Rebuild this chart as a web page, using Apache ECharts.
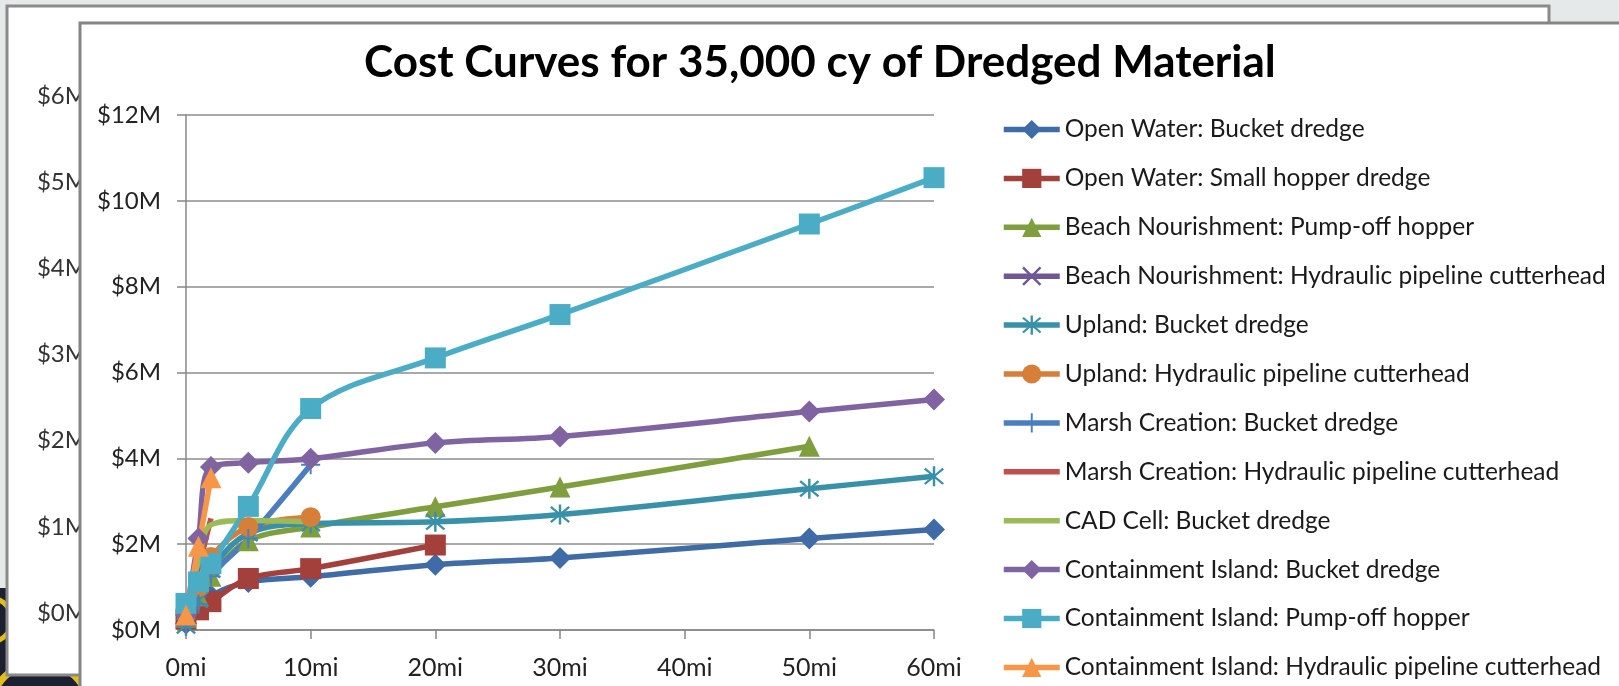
<!DOCTYPE html>
<html>
<head>
<meta charset="utf-8">
<script src="https://cdn.jsdelivr.net/npm/echarts@6/dist/echarts.min.js"></script>
<style>
  html, body { margin: 0; padding: 0; background: #e6e9e9; }
  #chart { width: 1619px; height: 686px; }
</style>
</head>
<body>
<div id="chart"></div>
<script>
// Haul distance (miles) shared by every cost curve
const distances = [0, 1, 2, 5, 10, 20, 30, 50, 60];

// Total cost in $ millions at each distance (null = not computed)
const openWaterBucket        = [0.15, 0.50, 0.80, 1.12, 1.24, 1.52, 1.68, 2.13, 2.34];
const openWaterHopper        = [0.25, 0.47, 0.66, 1.20, 1.43, 1.98, null, null, null];
const beachPumpOff           = [0.30, 0.80, 1.25, 2.08, 2.40, 2.87, 3.33, 4.28, null];
const beachHydraulic         = [0.30, 0.95, 1.50, null, null, null, null, null, null];
const uplandBucket           = [0.10, 0.70, 1.40, 2.25, 2.48, 2.52, 2.69, 3.29, 3.58];
const uplandHydraulic        = [0.40, 1.00, 1.70, 2.40, 2.63, null, null, null, null];
const marshBucket            = [0.10, 0.60, 1.25, 2.13, 3.85, null, null, null, null];
const marshHydraulic         = [0.35, 1.45, 2.60, null, null, null, null, null, null];
const cadCellBucket          = [0.45, 1.60, 2.45, 2.55, 2.52, null, null, null, null];
const containmentBucket      = [0.35, 2.13, 3.80, 3.90, 3.99, 4.36, 4.51, 5.09, 5.37];
const containmentPumpOff     = [0.62, 1.12, 1.55, 2.88, 5.16, 6.34, 7.35, 9.46, 10.54];
const containmentHydraulic   = [0.35, 1.95, 3.55, null, null, null, null, null, null];

const seriesNames = [
  'Open Water: Bucket dredge',
  'Open Water: Small hopper dredge',
  'Beach Nourishment: Pump-off hopper',
  'Beach Nourishment: Hydraulic pipeline cutterhead',
  'Upland: Bucket dredge',
  'Upland: Hydraulic pipeline cutterhead',
  'Marsh Creation: Bucket dredge',
  'Marsh Creation: Hydraulic pipeline cutterhead',
  'CAD Cell: Bucket dredge',
  'Containment Island: Bucket dredge',
  'Containment Island: Pump-off hopper',
  'Containment Island: Hydraulic pipeline cutterhead'
];
const seriesValues = [
  openWaterBucket, openWaterHopper, beachPumpOff, beachHydraulic,
  uplandBucket, uplandHydraulic, marshBucket, marshHydraulic,
  cadCellBucket, containmentBucket, containmentPumpOff, containmentHydraulic
];

// Axis ticks
const xTicks = [0, 10, 20, 30, 40, 50, 60];
const yTicks = [0, 2, 4, 6, 8, 10, 12];
const backYTicks = [0, 1, 2, 3, 4, 5, 6];

const chartTitle = 'Cost Curves for 35,000 cy of Dredged Material';

// Marker shapes
const X_MARK = 'path://M1.8,0L10,8.2L18.2,0L20,1.8L11.8,10L20,18.2L18.2,20L10,11.8L1.8,20L0,18.2L8.2,10L0,1.8Z';
const STAR_MARK = 'path://M8.8,0H11.2V20H8.8Z M1.8,1.5L10,8.7L18.2,1.5L19.8,3.2L11.6,10L19.8,16.8L18.2,18.5L10,11.3L1.8,18.5L0.2,16.8L8.4,10L0.2,3.2Z';
const PLUS_MARK = 'path://M9,0H11V20H9Z M0,9H20V11H0Z';

const styles = [
  { color: '#3f6ca6', symbol: 'diamond',  size: 22 },
  { color: '#a3403c', symbol: 'rect',     size: 21 },
  { color: '#7f9e3e', symbol: 'triangle', size: 21 },
  { color: '#705795', symbol: X_MARK,     size: 19 },
  { color: '#3891a8', symbol: STAR_MARK,  size: 20 },
  { color: '#d67f38', symbol: 'circle',   size: 20 },
  { color: '#4a7ebe', symbol: PLUS_MARK,  size: 19 },
  { color: '#c0504d', symbol: 'none',     size: 0 },
  { color: '#9bbb59', symbol: 'none',     size: 0 },
  { color: '#8064a2', symbol: 'diamond',  size: 22 },
  { color: '#4bacc6', symbol: 'rect',     size: 21 },
  { color: '#f79646', symbol: 'triangle', size: 21 }
];

const FONT = 'Lato, "Open Sans", sans-serif';
const AXIS_GRAY = '#878787';
const LINE_W = 5.5;

const series = seriesNames.map(function (name, i) {
  const st = styles[i];
  const data = distances
    .map(function (d, j) { return [d, seriesValues[i][j]]; })
    .filter(function (p) { return p[1] !== null; });
  return {
    name: name,
    type: 'line',
    xAxisIndex: 0,
    yAxisIndex: 0,
    data: data,
    smooth: 0.35,
    clip: false,
    z: 6,
    symbol: st.symbol,
    symbolSize: st.size,
    showAllSymbol: true,
    lineStyle: { color: st.color, width: LINE_W },
    itemStyle: { color: st.color, borderWidth: 0 },
    emphasis: { disabled: true }
  };
});

// legend entries: lines drawn without markers keep a bare line in the key
const legendData = seriesNames.map(function (name, i) {
  return styles[i].symbol === 'none'
    ? { name: name, itemStyle: { opacity: 0 } }
    : { name: name };
});

const chart = echarts.init(document.getElementById('chart'), null, { renderer: 'canvas' });

chart.setOption({
  animation: false,
  backgroundColor: '#e6e9e9',
  graphic: [
    // dark emblem in the lower-left corner of the slide
    { type: 'rect', z: 1, shape: { x: 0, y: 588, width: 95, height: 98 }, style: { fill: '#1d2030' } },
    { type: 'circle', z: 1, shape: { cx: 40, cy: 712, r: 50 }, style: { fill: 'none', stroke: '#e2bd1f', lineWidth: 7 } },
    { type: 'circle', z: 1, shape: { cx: -10, cy: 620, r: 22 }, style: { fill: 'none', stroke: '#e2bd1f', lineWidth: 5 } },
    // card behind
    { type: 'rect', z: 2, shape: { x: 7, y: 6, width: 1542, height: 669 },
      style: { fill: '#ffffff', stroke: '#8a8a8a', lineWidth: 3 } },
    // card in front
    { type: 'rect', z: 4, shape: { x: 80, y: 23, width: 1560, height: 700 },
      style: { fill: '#ffffff', stroke: '#858585', lineWidth: 3 } }
  ],
  title: {
    text: chartTitle,
    left: 364,
    top: 41,
    padding: 0,
    z: 7,
    textStyle: { fontFamily: FONT, fontWeight: 'bold', fontSize: 44, color: '#000000' }
  },
  legend: {
    data: legendData,
    orient: 'vertical',
    left: 1001,
    top: 117,
    height: 600,
    padding: 0,
    itemWidth: 56,
    itemHeight: 24,
    itemGap: 23.9,
    selectedMode: false,
    z: 7,
    lineStyle: { width: LINE_W },
    textStyle: { fontFamily: FONT, fontSize: 24.5, color: '#1a1a1a', lineHeight: 24 }
  },
  grid: [
    { left: 186, right: 685, top: 115, bottom: 56, containLabel: false },
    { left: 100, right: 700, top: 96, bottom: 73, containLabel: false }
  ],
  xAxis: [
    {
      type: 'value', gridIndex: 0, z: 5,
      min: xTicks[0], max: xTicks[xTicks.length - 1], interval: xTicks[1] - xTicks[0],
      axisLine: { show: true, lineStyle: { color: AXIS_GRAY, width: 1.5 } },
      axisTick: { show: true, length: 9, lineStyle: { color: AXIS_GRAY, width: 1.5 } },
      splitLine: { show: false },
      axisLabel: { margin: 25, fontFamily: FONT, fontSize: 25, color: '#222222',
        formatter: function (v) { return v + 'mi'; } }
    },
    { type: 'value', gridIndex: 1, show: false, min: 0, max: 1 }
  ],
  yAxis: [
    {
      type: 'value', gridIndex: 0, z: 5,
      min: yTicks[0], max: yTicks[yTicks.length - 1], interval: yTicks[1] - yTicks[0],
      axisLine: { show: true, lineStyle: { color: AXIS_GRAY, width: 1.5 } },
      axisTick: { show: true, length: 9, lineStyle: { color: AXIS_GRAY, width: 1.5 } },
      splitLine: { show: true, lineStyle: { color: '#8c8c8c', width: 1.5 } },
      axisLabel: { margin: 25, fontFamily: FONT, fontSize: 24, color: '#222222',
        formatter: function (v) { return '$' + v + 'M'; } }
    },
    {
      type: 'value', gridIndex: 1, z: 3,
      min: backYTicks[0], max: backYTicks[backYTicks.length - 1], interval: backYTicks[1] - backYTicks[0],
      axisLine: { show: false }, axisTick: { show: false }, splitLine: { show: false },
      axisLabel: { margin: 13, fontFamily: FONT, fontSize: 24, color: '#333333',
        formatter: function (v) { return '$' + v + 'M'; } }
    }
  ],
  series: series
});
</script>
</body>
</html>
